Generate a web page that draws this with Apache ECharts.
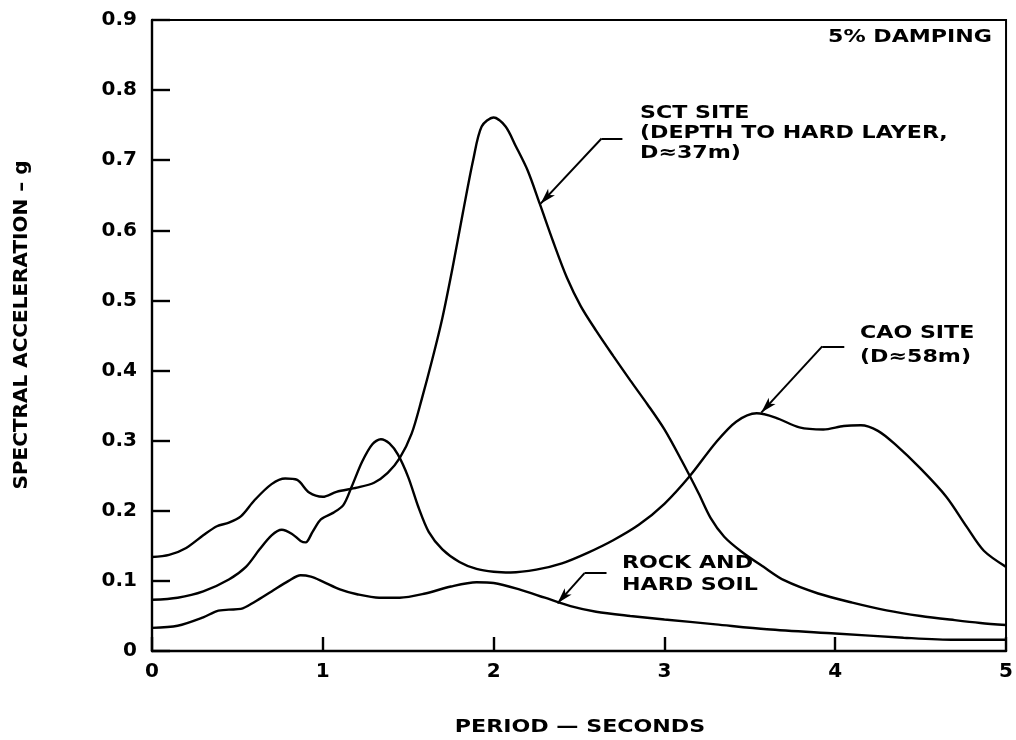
<!DOCTYPE html>
<html>
<head>
<meta charset="utf-8">
<script src="https://cdn.jsdelivr.net/npm/echarts@6/dist/echarts.min.js"></script>
<style>
  html, body { margin: 0; padding: 0; background: #fff; }
  #chart { width: 1016px; height: 740px; }
</style>
</head>
<body>
<div id="chart"></div>
<script>
// Period (s) and spectral acceleration (g), 5% damping
const sctPeriod = [0, 0.1, 0.2, 0.3, 0.38, 0.45, 0.52, 0.6, 0.7, 0.78, 0.85, 0.92, 1.0, 1.08, 1.2, 1.3, 1.38, 1.45, 1.52, 1.58, 1.64, 1.7, 1.76, 1.82, 1.88, 1.93, 2.0, 2.07, 2.13, 2.2, 2.27, 2.35, 2.43, 2.51, 2.6, 2.7, 2.8, 2.9, 3.0, 3.1, 3.2, 3.27, 3.35, 3.45, 3.58, 3.7, 3.9, 4.1, 4.3, 4.5, 4.7, 4.85, 5.0];
const sctAccel  = [0.134, 0.137, 0.147, 0.165, 0.178, 0.183, 0.192, 0.215, 0.238, 0.246, 0.244, 0.226, 0.220, 0.227, 0.233, 0.240, 0.254, 0.275, 0.31, 0.36, 0.415, 0.475, 0.547, 0.625, 0.70, 0.748, 0.761, 0.748, 0.72, 0.685, 0.638, 0.583, 0.532, 0.492, 0.457, 0.421, 0.386, 0.352, 0.316, 0.272, 0.225, 0.19, 0.163, 0.142, 0.12, 0.101, 0.082, 0.069, 0.058, 0.050, 0.044, 0.040, 0.037];

const caoPeriod = [0, 0.15, 0.3, 0.45, 0.55, 0.63, 0.7, 0.76, 0.82, 0.87, 0.9, 0.94, 0.99, 1.06, 1.12, 1.17, 1.23, 1.29, 1.34, 1.39, 1.44, 1.5, 1.56, 1.62, 1.7, 1.8, 1.9, 2.0, 2.1, 2.25, 2.4, 2.55, 2.7, 2.85, 3.0, 3.15, 3.3, 3.42, 3.54, 3.65, 3.79, 3.93, 4.05, 4.15, 4.25, 4.35, 4.5, 4.65, 4.77, 4.87, 5.0];
const caoAccel  = [0.073, 0.076, 0.085, 0.102, 0.12, 0.145, 0.165, 0.173, 0.167, 0.157, 0.155, 0.170, 0.188, 0.197, 0.208, 0.235, 0.27, 0.295, 0.302, 0.296, 0.280, 0.248, 0.205, 0.17, 0.145, 0.127, 0.117, 0.113, 0.112, 0.116, 0.125, 0.14, 0.158, 0.18, 0.21, 0.25, 0.297, 0.327, 0.339, 0.333, 0.319, 0.316, 0.321, 0.322, 0.314, 0.295, 0.26, 0.22, 0.177, 0.143, 0.12];

const rockPeriod = [0, 0.15, 0.3, 0.38, 0.45, 0.52, 0.6, 0.7, 0.8, 0.87, 0.93, 1.0, 1.1, 1.2, 1.33, 1.45, 1.6, 1.75, 1.9, 2.0, 2.15, 2.3, 2.45, 2.6, 2.8, 3.0, 3.3, 3.6, 4.0, 4.4, 4.7, 5.0];
const rockAccel  = [0.033, 0.036, 0.048, 0.057, 0.059, 0.06, 0.07, 0.085, 0.1, 0.108, 0.106, 0.099, 0.088, 0.081, 0.076, 0.076, 0.082, 0.092, 0.098, 0.097, 0.088, 0.076, 0.064, 0.056, 0.05, 0.045, 0.038, 0.031, 0.025, 0.019, 0.016, 0.016];

const periodTicks = [0, 1, 2, 3, 4, 5];
const accelTicks = [0, 0.1, 0.2, 0.3, 0.4, 0.5, 0.6, 0.7, 0.8, 0.9];

const pairs = (xs, ys) => xs.map((x, i) => [x, ys[i]]);

const FONT = 'DejaVu Sans';
const INK = '#000';

// leader line: short horizontal stub, then a diagonal with an arrowhead on the curve
function leader(stubStart, stubEnd, tip) {
  return {
    silent: true,
    symbol: ['none', 'none'],
    lineStyle: { color: INK, width: 2, type: 'solid' },
    label: { show: false },
    emphasis: { disabled: true },
    data: [
      [{ coord: stubStart }, { coord: stubEnd }],
      [{ coord: stubStart, symbol: 'none' }, { coord: tip, symbol: 'arrow', symbolSize: [7, 16] }]
    ]
  };
}

function curve(name, xs, ys, markLine) {
  return {
    name, type: 'line', data: pairs(xs, ys),
    smooth: 0.3, showSymbol: false, symbol: 'none',
    lineStyle: { color: INK, width: 2.4 },
    markLine
  };
}

function label(text, x, y, align) {
  return {
    type: 'text', x, y, scaleX: 1.23,
    style: { text, font: 'bold 18px "' + FONT + '"', fill: INK, textAlign: align || 'left', textVerticalAlign: 'middle' }
  };
}

const chart = echarts.init(document.getElementById('chart'), null, { renderer: 'canvas' });

chart.setOption({
  animation: false,
  backgroundColor: '#fff',
  grid: { left: 152, right: 9, top: 20, bottom: 89, show: true, borderColor: INK, borderWidth: 2, backgroundColor: 'transparent' },
  xAxis: {
    type: 'value', min: periodTicks[0], max: periodTicks[periodTicks.length - 1], interval: 1,
    axisLine: { show: true, onZero: false, lineStyle: { color: INK, width: 2.4 } },
    axisTick: { show: true, inside: true, length: 14, lineStyle: { color: INK, width: 2.4 } },
    splitLine: { show: false },
    axisLabel: { color: INK, fontFamily: FONT, fontWeight: 'bold', fontSize: 20, margin: 11,
      formatter: v => periodTicks.includes(v) ? String(v) : '' }
  },
  yAxis: {
    type: 'value', min: accelTicks[0], max: accelTicks[accelTicks.length - 1], interval: 0.1,
    axisLine: { show: true, onZero: false, lineStyle: { color: INK, width: 2.4 } },
    axisTick: { show: true, inside: true, length: 18, lineStyle: { color: INK, width: 2.4 } },
    splitLine: { show: false },
    axisLabel: { color: INK, fontFamily: FONT, fontWeight: 'bold', fontSize: 20, margin: 15,
      formatter: v => (Math.abs(v) < 1e-9 ? '0' : v.toFixed(1)) }
  },
  series: [
    curve('SCT SITE', sctPeriod, sctAccel, leader([2.632, 0.731], [2.754, 0.731], [2.275, 0.638])),
    curve('CAO SITE', caoPeriod, caoAccel, leader([3.924, 0.4345], [4.053, 0.4345], [3.567, 0.340])),
    curve('ROCK AND HARD SOIL', rockPeriod, rockAccel, leader([2.532, 0.111], [2.661, 0.111], [2.374, 0.068]))
  ],
  graphic: [
    label('5% DAMPING', 992, 37, 'right'),
    label('SCT SITE', 640, 113),
    label('(DEPTH TO HARD LAYER,', 640, 133),
    label('D≈37m)', 640, 153),
    label('CAO SITE', 860, 333),
    label('(D≈58m)', 860, 357),
    label('ROCK AND', 622, 563),
    label('HARD SOIL', 622, 585),
    {
      type: 'text', x: 22, y: 325, rotation: Math.PI / 2,
      style: { text: 'SPECTRAL ACCELERATION – g', font: 'bold 20px "' + FONT + '"', fill: INK, textAlign: 'center', textVerticalAlign: 'middle' }
    },
    {
      type: 'text', x: 580, y: 727, scaleX: 1.23,
      style: { text: 'PERIOD — SECONDS', font: 'bold 18px "' + FONT + '"', fill: INK, textAlign: 'center', textVerticalAlign: 'middle' }
    }
  ]
});
</script>
</body>
</html>
